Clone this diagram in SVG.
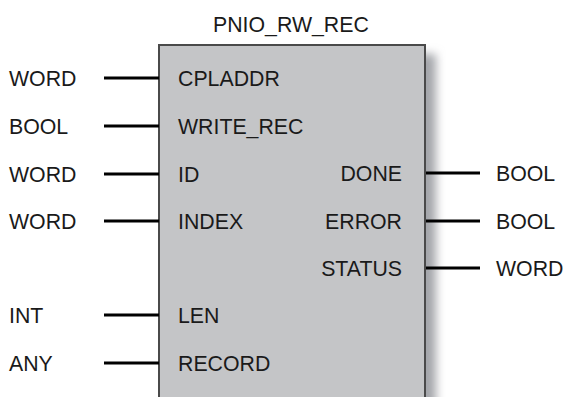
<svg xmlns="http://www.w3.org/2000/svg" width="563" height="397" viewBox="0 0 563 397">
<style>
text{font-family:"Liberation Sans",Arial,sans-serif;font-size:21.3px;fill:#1a1a1a}
.r{text-anchor:end}
.w{stroke:#000;stroke-width:3.2;fill:none}
</style>
<defs>
<filter id="sh" x="-20%" y="-20%" width="140%" height="140%"><feGaussianBlur stdDeviation="5"/></filter>
</defs>
<rect width="563" height="397" fill="#fff"/>
<g id="block">
<rect x="168" y="54" width="268" height="370" fill="#a4a6aa" filter="url(#sh)"/>
<rect x="159" y="45" width="266" height="360" fill="#c4c5c7" stroke="#4a4a4a" stroke-width="2"/>
<text x="213" y="31.5">PNIO_RW_REC</text>
<text x="178" y="86">CPLADDR</text>
<text x="178" y="134">WRITE_REC</text>
<text x="178" y="182">ID</text>
<text x="178" y="229">INDEX</text>
<text x="178" y="323">LEN</text>
<text x="178" y="371">RECORD</text>
<text class="r" x="402" y="181">DONE</text>
<text class="r" x="402" y="229">ERROR</text>
<text class="r" x="402" y="276">STATUS</text>
</g>
<g id="types">
<text x="9" y="86">WORD</text>
<text x="9" y="134">BOOL</text>
<text x="9" y="182">WORD</text>
<text x="9" y="229">WORD</text>
<text x="9" y="323">INT</text>
<text x="9" y="371">ANY</text>
<text x="496" y="181">BOOL</text>
<text x="496" y="229">BOOL</text>
<text x="496" y="276">WORD</text>
</g>
<g id="connectors">
<path class="w" d="M104 78H159M104 126H159M104 174H159M104 221H159M104 315H159M104 363H159M426 173H480M426 221H480M426 268H480"/>
</g>
</svg>
